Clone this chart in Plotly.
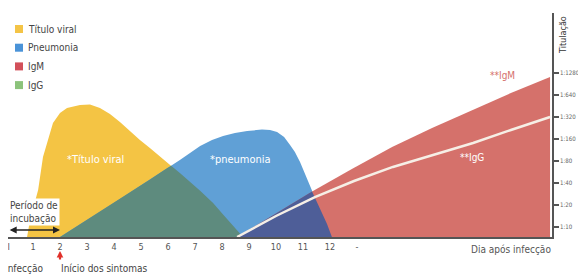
import numpy as np
import plotly.graph_objects as go

# ---------------- data (day after infection, titration level) ----------------
viral_days = [0.78, 0.89, 1.04, 1.19, 1.37, 1.74, 2.00, 2.26, 2.74, 3.11, 3.48, 3.85,
              4.22, 4.59, 4.96, 5.33, 5.96, 6.44, 7.00, 7.67, 8.22, 8.78]
viral_vals = [0.545, 1.32, 2.00, 2.68, 4.18, 5.73, 6.18, 6.41, 6.55, 6.57, 6.41, 6.14,
              5.77, 5.36, 4.95, 4.59, 3.95, 3.45, 2.86, 2.09, 1.32, 0.545]

pneumo_days = [2.00, 4.22, 6.44, 7.19, 7.63, 8.04, 8.48, 8.93, 9.48, 9.78, 10.04, 10.30,
               10.52, 10.70, 10.89, 11.07, 11.26, 11.48, 11.70, 11.89, 12.07]
pneumo_vals = [0.545, 2.27, 4.05, 4.68, 4.95, 5.14, 5.27, 5.36, 5.43, 5.41, 5.32, 5.09,
               4.73, 4.41, 3.95, 3.41, 2.82, 2.23, 1.68, 1.14, 0.545]

igm_days = [8.56, 9.96, 11.37, 12.81, 14.30, 15.78, 17.30, 18.70, 20.15]
igm_vals = [0.545, 1.59, 2.64, 3.64, 4.64, 5.50, 6.32, 7.09, 7.82]

igg_days = [8.56, 10.00, 11.44, 12.89, 14.33, 15.81, 17.30, 18.70, 20.15]
igg_vals = [0.545, 1.50, 2.36, 3.09, 3.73, 4.27, 4.82, 5.41, 6.00]

x_tick_vals = [0.1, 1, 2, 3, 4, 5, 6, 7, 8, 9, 10, 11, 12, 13]
x_tick_text = ["I", "1", "2", "3", "4", "5", "6", "7", "8", "9", "10", "11", "12", "-"]

y_tick_vals = [1, 2, 3, 4, 5, 6, 7, 8]
y_tick_text = ["1:10", "1:20", "1:40", "1:80", "1:160", "1:320", "1:640", "1:1280"]

legend_labels = ["Título viral", "Pneumonia", "IgM", "IgG"]
legend_colors = ["#f4c446", "#4a93d8", "#d2505a", "#8cc37b"]

# ---------------- helpers ----------------
OFF = 8                      # page body margin
FW, FH = 586 - OFF, 277 - OFF
FONT = "Liberation Sans Narrow, DejaVu Sans Condensed, Roboto, sans-serif"


def px(x):                   # page pixel -> paper x
    return (x - OFF) / FW


def py(y):                   # page pixel -> paper y
    return 1 - (y - OFF) / FH


def lower_envelope(xa, ya, xb, yb):
    """Region under both polylines (the overlap of two filled areas)."""
    lo, hi = max(xa[0], xb[0]), min(xa[-1], xb[-1])
    xs = sorted({x for x in list(xa) + list(xb) if lo <= x <= hi} | {lo, hi})
    fa = np.interp(xs, xa, ya)
    fb = np.interp(xs, xb, yb)
    out_x, out_y = [], []
    for i, x in enumerate(xs):
        if i > 0:
            d0 = fa[i - 1] - fb[i - 1]
            d1 = fa[i] - fb[i]
            if d0 * d1 < 0:
                t = d0 / (d0 - d1)
                out_x.append(xs[i - 1] + t * (x - xs[i - 1]))
                out_y.append(fa[i - 1] + t * (fa[i] - fa[i - 1]))
        out_x.append(x)
        out_y.append(min(fa[i], fb[i]))
    return out_x, out_y


fig = go.Figure()


def area(x, y, color):
    fig.add_trace(go.Scatter(x=x, y=y, mode="lines", fill="tozeroy",
                             fillcolor=color, line=dict(width=0, color=color),
                             hoverinfo="skip", showlegend=False))


area(viral_days, viral_vals, "#f4c444")
area(pneumo_days, pneumo_vals, "#60a0d6")
tx, ty = lower_envelope(viral_days, viral_vals, pneumo_days, pneumo_vals)
area(tx, ty, "#5e8b7e")
area(igm_days, igm_vals, "#d5716b")
nx, ny = lower_envelope(pneumo_days, pneumo_vals, igm_days, igm_vals)
area(nx, ny, "#4e5e98")
fig.add_trace(go.Scatter(x=igg_days, y=igg_vals, mode="lines",
                         line=dict(color="#f6efe6", width=2.5),
                         hoverinfo="skip", showlegend=False))

# ---------------- annotations ----------------
ann = []
ann.append(dict(x=3.33, y=4.05, xref="x", yref="y", text="*Título viral", showarrow=False,
                font=dict(family=FONT, size=11, color="white")))
ann.append(dict(x=8.7, y=4.05, xref="x", yref="y", text="*pneumonia", showarrow=False,
                font=dict(family=FONT, size=11, color="white")))
ann.append(dict(x=18.4, y=7.9, xref="x", yref="y", text="**IgM", showarrow=False,
                font=dict(family=FONT, size=10, color="#d5716b")))
ann.append(dict(x=17.26, y=4.14, xref="x", yref="y", text="**IgG", showarrow=False,
                font=dict(family=FONT, size=10, color="white")))


def page_text(x, y, text, size, color, xanchor="left", **kw):
    ann.append(dict(x=px(x), y=py(y), xref="paper", yref="paper", xanchor=xanchor,
                    yanchor="middle", text=text, showarrow=False,
                    font=dict(family=FONT, size=size, color=color), **kw))


# incubation label + double arrow
page_text(8, 212, "Período de<br>incubação", 10, "#444", align="left",
          bgcolor="white", borderpad=1)
ann.append(dict(x=2.0, y=0.86, ax=0.08, ay=0.86, xref="x", yref="y", axref="x", ayref="y",
                text="", showarrow=True, arrowside="end+start", arrowhead=2,
                arrowsize=1, arrowwidth=1.4, arrowcolor="#222"))

# red symptom marker
ann.append(dict(x=2, y=py(251), xref="x", yref="paper", ax=0, ay=10, text="",
                showarrow=True, arrowhead=2, arrowsize=0.6, arrowwidth=2.2,
                arrowcolor="#e0302a"))

# bottom / axis texts
page_text(45, 268, "Infecção", 10, "#444", xanchor="right")
page_text(59, 268, "Início dos sintomas", 10, "#444")
page_text(553, 249, "Dia após infecção", 10, "#555", xanchor="right")
page_text(563, 35, "Titulação", 9, "#333", xanchor="center", textangle=-90)

# legend (squares + text)
shapes = []
for i, (lab, col) in enumerate(zip(legend_labels, legend_colors)):
    yc = 29 + i * 18.7
    shapes.append(dict(type="rect", xref="paper", yref="paper",
                       x0=px(15), x1=px(23), y0=py(yc - 4), y1=py(yc + 4),
                       fillcolor=col, line=dict(width=0)))
    page_text(26, yc, lab, 10, "#444")

fig.update_layout(
    width=FW, height=FH,
    margin=dict(l=0, r=0, t=0, b=0),
    paper_bgcolor="white", plot_bgcolor="white",
    showlegend=False,
    annotations=ann, shapes=shapes,
    xaxis=dict(domain=[0, px(552)], range=[(OFF - 6) / 27, (552 - 6) / 27], automargin=False,
               tickvals=x_tick_vals, ticktext=x_tick_text, ticks="",
               ticklabeloverflow="allow",
               showline=True, linecolor="#555", linewidth=2,
               showgrid=False, zeroline=False,
               tickfont=dict(family=FONT, size=9, color="#555")),
    yaxis=dict(domain=[py(237), py(13)], range=[0.545, 10.727], automargin=False,
               side="right", tickvals=y_tick_vals, ticktext=y_tick_text,
               ticks="outside", ticklen=5, tickwidth=1.5, tickcolor="#555",
               ticklabeloverflow="allow",
               showline=True, linecolor="#555", linewidth=1.5,
               showgrid=False, zeroline=False,
               tickfont=dict(family=FONT, size=6.1, color="#666")),
)

fig.write_html("out.html")
